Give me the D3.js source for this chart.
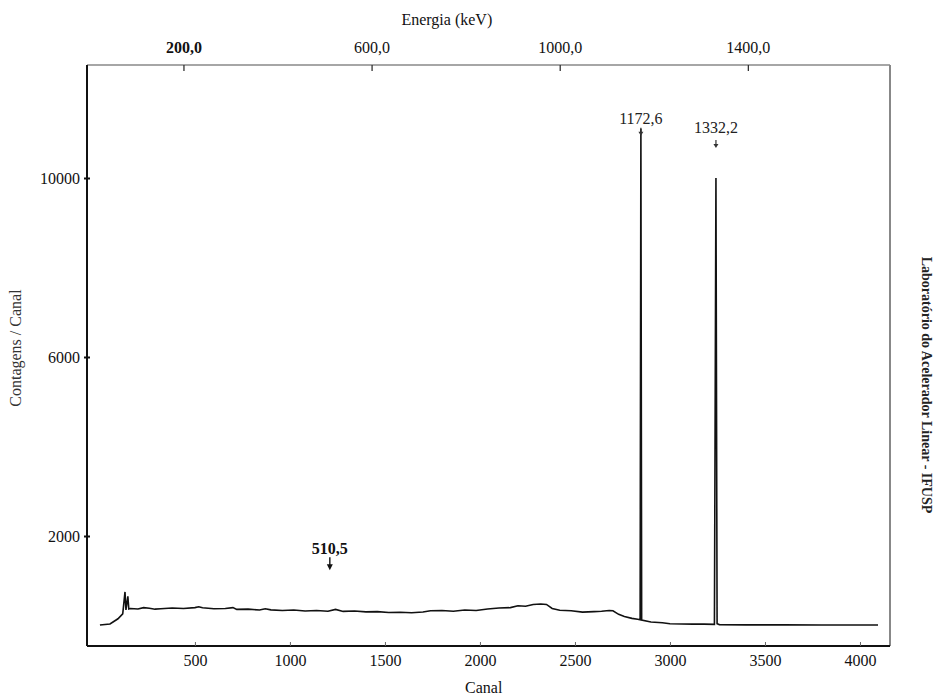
<!DOCTYPE html>
<html>
<head>
<meta charset="utf-8">
<script src="https://cdn.jsdelivr.net/npm/d3@7"></script>
<style>
  body { margin: 0; background: #fff; }
  svg { font-family: "Liberation Serif", "DejaVu Serif", serif; }
</style>
</head>
<body>
<svg id="chart" width="934" height="698"></svg>
<script>
// spectrum: channel and counts per channel
const channels = [0, 53, 95, 120, 132, 137, 147, 152, 160, 200, 230, 260, 290, 320, 380, 440, 500, 520, 540, 600, 660, 700, 720, 780, 840, 870, 900, 960, 1020, 1080, 1140, 1200, 1240, 1280, 1340, 1400, 1460, 1520, 1580, 1640, 1700, 1740, 1800, 1860, 1920, 1980, 2040, 2100, 2160, 2200, 2240, 2280, 2320, 2350, 2380, 2420, 2480, 2540, 2600, 2640, 2680, 2700, 2730, 2760, 2800, 2830, 2843, 2847, 2851, 2900, 2960, 3000, 3060, 3120, 3180, 3234, 3242, 3248, 3260, 3400, 3600, 3800, 4000, 4095]
const counts = [10, 35, 150, 260, 750, 350, 650, 370, 380, 370, 400, 385, 365, 375, 390, 380, 400, 420, 395, 375, 380, 400, 360, 365, 345, 375, 350, 335, 345, 325, 335, 320, 360, 315, 325, 305, 310, 290, 295, 285, 300, 330, 335, 320, 345, 335, 370, 390, 400, 440, 430, 470, 480, 470, 380, 340, 330, 300, 310, 320, 335, 330, 250, 200, 160, 140, 130, 11100, 120, 80, 60, 40, 35, 30, 30, 25, 10000, 40, 20, 15, 15, 12, 10, 10]

const channelTicks = [500, 1000, 1500, 2000, 2500, 3000, 3500, 4000]
const countTicks = [2000, 6000, 10000]
const energyTicks = [200, 600, 1000, 1400]
const peakLabels = [
  { channel: 2847, count: 11100, text: '1172,6', lift: 5, arrow: 1 },
  { channel: 3242, count: 10000, text: '1332,2', lift: 45, arrow: 38 }
]
const markLabels = [{ channel: 1210, count: 1300, text: '510,5' }]

// energy calibration: keV = gain * channel + offset
const gain = 0.404
const offset = 22.4

const margins = { top: 65, right: 44, bottom: 52, left: 87 }
const svg = d3.select('#chart')
const width = 934 - margins.left - margins.right
const height = 698 - margins.top - margins.bottom
const g = svg.append('g').attr('transform', `translate(${margins.left},${margins.top})`)

const x = d3.scaleLinear().domain([-68, 4158]).range([0, width])
const y = d3.scaleLinear().domain([-458, 12525]).range([height, 0])
const xE = d3.scaleLinear()
  .domain([x.domain()[0] * gain + offset, x.domain()[1] * gain + offset])
  .range([0, width])

const data = channels.map((c, i) => ({ c, n: counts[i] }))

g.append('path').datum(data)
  .attr('fill', 'none').attr('stroke', '#111').attr('stroke-width', 1.6)
  .attr('d', d3.line().x(d => x(d.c)).y(d => y(d.n)))

// frame
g.append('line').attr('x1', 0).attr('x2', width).attr('y1', 0).attr('y2', 0)
  .attr('stroke', '#888').attr('stroke-width', 1.5)
g.append('line').attr('x1', width).attr('x2', width).attr('y1', 0).attr('y2', height)
  .attr('stroke', '#888').attr('stroke-width', 2)

// bottom axis
const xAxis = g.append('g').attr('transform', `translate(0,${height})`)
  .call(d3.axisBottom(x).tickValues(channelTicks).tickSize(-4).tickPadding(9).tickFormat(d3.format('d')))
xAxis.attr('font-family', null).attr('font-size', null)
xAxis.select('.domain').attr('stroke', '#111').attr('stroke-width', 2).attr('d', `M0,0H${width}`)
xAxis.selectAll('text').style('font-size', '16px').attr('fill', '#111')
xAxis.selectAll('.tick line').attr('stroke', '#666')

g.append('text').attr('x', x(2020)).attr('y', height + 47)
  .attr('text-anchor', 'middle').style('font-size', '16px').attr('fill', '#111').text('Canal')

// left axis
const yAxis = g.append('g')
  .call(d3.axisLeft(y).tickValues(countTicks).tickSize(3).tickPadding(4).tickFormat(d3.format('d')))
yAxis.attr('font-family', null).attr('font-size', null)
yAxis.select('.domain').attr('stroke', '#111').attr('stroke-width', 2).attr('d', `M0,0V${height}`)
yAxis.selectAll('.tick line').attr('x1', -3).attr('x2', 3).attr('stroke', '#111').attr('stroke-width', 2)
yAxis.selectAll('text').style('font-size', '16px').attr('fill', '#111').attr('dy', '0.35em')

g.append('text').attr('transform', `translate(${-66},${y(6200)}) rotate(-90)`)
  .attr('text-anchor', 'middle').style('font-size', '16px').attr('fill', '#333')
  .text('Contagens / Canal')

// top axis, energy
const eAxis = g.append('g')
  .call(d3.axisTop(xE).tickValues(energyTicks).tickSize(-6).tickPadding(12).tickFormat(d => d3.format('.1f')(d).replace('.', ',')))
eAxis.attr('font-family', null).attr('font-size', null)
eAxis.select('.domain').remove()
eAxis.selectAll('.tick line').attr('stroke', '#333').attr('stroke-width', 1.3)
eAxis.selectAll('text').style('font-size', '16px').attr('fill', '#111')
  .style('font-weight', d => d === 200 ? 'bold' : 'normal')

g.append('text').attr('x', xE(760)).attr('y', -40)
  .attr('text-anchor', 'middle').style('font-size', '16px').attr('fill', '#111').text('Energia (keV)')

// peak labels
peakLabels.forEach(p => {
  const px = x(p.channel)
  const py = y(p.count)
  g.append('text').attr('x', px).attr('y', py - p.lift)
    .attr('text-anchor', 'middle').style('font-size', '16px').attr('fill', '#222').text(p.text)
  const top = py - p.arrow
  g.append('line').attr('x1', px).attr('x2', px).attr('y1', top).attr('y2', top + 6)
    .attr('stroke', '#333').attr('stroke-width', 1.2)
  g.append('path').attr('d', `M${px - 2.5},${top + 4}L${px + 2.5},${top + 4}L${px},${top + 8}Z`).attr('fill', '#333')
})

markLabels.forEach(m => {
  const px = x(m.channel)
  const py = y(m.count)
  g.append('text').attr('x', px).attr('y', py - 13)
    .attr('text-anchor', 'middle').style('font-size', '16px').style('font-weight', 'bold').attr('fill', '#111').text(m.text)
  g.append('line').attr('x1', px).attr('x2', px).attr('y1', py - 10).attr('y2', py - 1)
    .attr('stroke', '#111').attr('stroke-width', 1.4)
  g.append('path').attr('d', `M${px - 3},${py - 3}L${px + 3},${py - 3}L${px},${py + 3}Z`).attr('fill', '#111')
})

// side credit
svg.append('text').attr('transform', 'translate(922,385) rotate(90)')
  .attr('text-anchor', 'middle').style('font-size', '14px').style('font-weight', 'bold').attr('fill', '#222')
  .text('Laboratório do Acelerador Linear - IFUSP')
</script>
</body>
</html>
